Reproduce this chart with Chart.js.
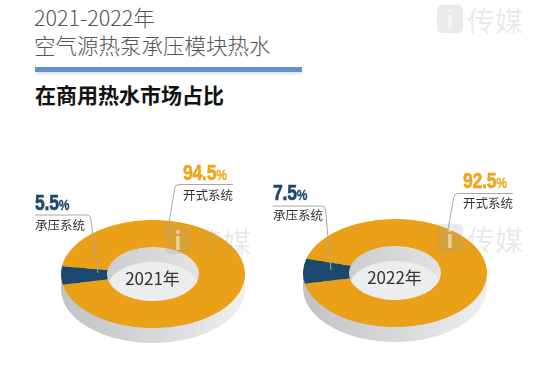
<!DOCTYPE html>
<html>
<head>
<meta charset="utf-8">
<script src="https://cdn.jsdelivr.net/npm/chart.js@4.4.1/dist/chart.umd.min.js"></script>
<style>
  body { margin: 0; background: #fff; font-family: "Noto Sans CJK SC", "Noto Sans", sans-serif; }
  #page { position: relative; width: 557px; height: 374px; overflow: hidden; background: #fff; }
  .title { position: absolute; left: 34px; top: 3px; font-size: 21.5px; font-weight: 300; color: #555; line-height: 28px; white-space: nowrap; }
  .bar { position: absolute; left: 35px; top: 67px; width: 267px; height: 5px; background: #5f93cc; box-shadow: 0 2px 3px rgba(0,0,0,0.12); }
  .sub { position: absolute; left: 35px; top: 84px; font-size: 21px; line-height: 21px; font-weight: bold; color: #111; white-space: nowrap; }
  .ring { position: absolute; width: 184px; height: 184px; transform: scaleY(0.587); }
  .pct { position: absolute; font-family: "Liberation Sans", "DejaVu Sans", sans-serif; font-weight: bold; font-size: 22px; line-height: 22px; white-space: nowrap; transform: scaleX(0.8); transform-origin: 0 0; letter-spacing: -0.3px; -webkit-text-stroke: 0.6px currentColor; }
  .pct span { font-size: 15px; -webkit-text-stroke: 0.3px currentColor; }
  .cat { position: absolute; font-size: 12.5px; line-height: 14px; color: #333; white-space: nowrap; }
  .year { position: absolute; font-size: 17px; line-height: 17px; color: #333; transform: translate(-50%, -50%); white-space: nowrap; }
  .wm { position: absolute; font-size: 28px; line-height: 30px; color: rgba(160,160,160,0.22); white-space: nowrap; }
  .wm b { display: inline-block; width: 26px; height: 28px; border-radius: 5px; background: rgba(160,160,160,0.22); color: rgba(255,255,255,0.5); text-align: center; font-size: 24px; line-height: 28px; margin-right: 4px; vertical-align: top; }
  svg { position: absolute; left: 0; top: 0; }
</style>
</head>
<body>
<div id="page">
  <div class="wm" style="left:437px;top:5px;"><b>i</b>传媒</div>
  <div class="title">2021-2022年<br>空气源热泵承压模块热水</div>
  <div class="bar"></div>
  <div class="sub">在商用热水市场占比</div>
</div>
<script>
// data
const years = ['2021年', '2022年'];
const categories = ['承压系统', '开式系统'];
const pressurized = [5.5, 7.5];
const openType = [94.5, 92.5];

const navy = '#1d486e';
const orange = '#eaa017';
const startAngle = 258.5;

// layout of each ring on the page
const centers = [[152.5, 274], [394.5, 272.5]];
const sideOffsets = [15, 11, 7, 3];

const page = document.getElementById('page');

function sideFill(c) {
  const { ctx, chartArea } = c.chart;
  if (!chartArea) return '#d4d5d6';
  const g = ctx.createLinearGradient(chartArea.left, 0, chartArea.right, 0);
  g.addColorStop(0, '#c2c3c4');
  g.addColorStop(0.55, '#d9dadb');
  g.addColorStop(1, '#f0f0f0');
  return g;
}

function ringChart(canvas, datasets, cutout) {
  return new Chart(canvas, {
    type: 'doughnut',
    data: { labels: categories, datasets: datasets },
    options: {
      responsive: true,
      maintainAspectRatio: false,
      animation: false,
      events: [],
      cutout: cutout,
      rotation: startAngle,
      layout: { padding: 0 },
      plugins: { legend: { display: false }, tooltip: { enabled: false } }
    }
  });
}

function addRing(cx, cy, off) {
  const div = document.createElement('div');
  div.className = 'ring';
  div.style.left = (cx - 92) + 'px';
  div.style.top = (cy - 92 + off) + 'px';
  const canvas = document.createElement('canvas');
  div.appendChild(canvas);
  page.appendChild(div);
  return canvas;
}

years.forEach((year, i) => {
  const [cx, cy] = centers[i];
  const values = [pressurized[i], openType[i]];

  // side wall of the ring, stacked from the bottom up
  sideOffsets.forEach((off, k) => {
    const canvas = addRing(cx, cy, off);
    const wall = { data: values, backgroundColor: sideFill, borderWidth: 0, hoverOffset: 0, weight: 1 };
    if (k === 0) {
      const floor = { data: values, backgroundColor: '#ecedee', borderWidth: 0, hoverOffset: 0, weight: 1 };
      ringChart(canvas, [wall, floor], 0);
    } else {
      ringChart(canvas, [wall], '50%');
    }
  });

  // top face
  const top = addRing(cx, cy, 0);
  ringChart(top, [{
    data: values,
    backgroundColor: [navy, orange],
    borderWidth: 0,
    hoverOffset: 0
  }], '50%');

  const y = document.createElement('div');
  y.className = 'year';
  y.style.left = cx + 'px';
  y.style.top = (cy + 3) + 'px';
  y.textContent = year;
  page.appendChild(y);
});

// watermarks over the rings
[[165, 226], [437, 224]].forEach(p => {
  const w = document.createElement('div');
  w.className = 'wm';
  w.style.left = p[0] + 'px';
  w.style.top = p[1] + 'px';
  w.innerHTML = '<b>i</b>传媒';
  page.appendChild(w);
});

// labels with leader lines
const labelPos = [
  { pct: [35, 192], cat: [35, 218], line: 'M35,215 H86 Q90.5,215 90.8,219.5 L98,273', color: navy },
  { pct: [183, 162], cat: [183, 188], line: 'M233,184.5 H179 Q175,184.5 174.7,188.5 L167,235', color: '#f0a51c' },
  { pct: [273, 182], cat: [273, 208], line: 'M273,206 H321 Q325.2,206 325.5,210 L331,270', color: navy },
  { pct: [463, 170], cat: [463, 196], line: 'M513,193.5 H458 Q454,193.5 453.7,197.5 L445,246', color: '#f0a51c' }
];

const svgNS = 'http://www.w3.org/2000/svg';
const svg = document.createElementNS(svgNS, 'svg');
svg.setAttribute('width', 557);
svg.setAttribute('height', 374);
page.appendChild(svg);

years.forEach((year, i) => {
  [pressurized[i], openType[i]].forEach((v, j) => {
    const pos = labelPos[i * 2 + j];
    const path = document.createElementNS(svgNS, 'path');
    path.setAttribute('d', pos.line);
    path.setAttribute('fill', 'none');
    path.setAttribute('stroke', '#a8a8a8');
    path.setAttribute('stroke-width', '1');
    svg.appendChild(path);

    const p = document.createElement('div');
    p.className = 'pct';
    p.style.left = pos.pct[0] + 'px';
    p.style.top = pos.pct[1] + 'px';
    p.style.color = pos.color;
    p.innerHTML = v.toFixed(1) + '<span>%</span>';
    page.appendChild(p);

    const c = document.createElement('div');
    c.className = 'cat';
    c.style.left = pos.cat[0] + 'px';
    c.style.top = pos.cat[1] + 'px';
    c.textContent = categories[j];
    page.appendChild(c);
  });
});
</script>
</body>
</html>
